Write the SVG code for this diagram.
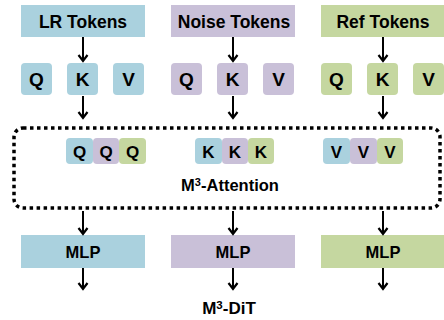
<svg xmlns="http://www.w3.org/2000/svg" width="444" height="320" viewBox="0 0 444 320">
<defs>
<style>
.b{fill:#aad1de}.p{fill:#c9c0d8}.g{fill:#c5d7a0}
.t{font-family:"Liberation Sans",Arial,sans-serif;font-weight:bold;fill:#000;text-anchor:middle}
.lbl{font-size:17.5px}
.let{font-size:19px}
.sm{font-size:17px}
.c{stroke:#000;stroke-width:2;fill:none}
</style>
<marker id="ah" markerWidth="12" markerHeight="12" refX="8" refY="6" orient="auto" markerUnits="userSpaceOnUse" viewBox="0 0 12 12">
<path d="M2,1.5 L8,6 L2,10.5" fill="none" stroke="#000" stroke-width="2.2"/>
</marker>
</defs>
<rect width="444" height="320" fill="#fff"/>

<g id="lr-tokens"><rect class="b" x="21" y="5" width="124" height="32"/><text class="t lbl" x="83" y="27.5">LR Tokens</text></g>
<g id="noise-tokens"><rect class="p" x="171" y="5" width="124" height="32"/><text class="t lbl" x="234" y="27.5">Noise Tokens</text></g>
<g id="ref-tokens"><rect class="g" x="321" y="5" width="124" height="32"/><text class="t lbl" x="383" y="27.5">Ref Tokens</text></g>

<g id="lr-q"><rect class="b" x="21" y="63" width="31" height="32" rx="4"/><text class="t let" x="36.5" y="86">Q</text></g>
<g id="lr-k"><rect class="b" x="67" y="63" width="31" height="32" rx="4"/><text class="t let" x="82.5" y="86">K</text></g>
<g id="lr-v"><rect class="b" x="113" y="63" width="31" height="32" rx="4"/><text class="t let" x="128.5" y="86">V</text></g>
<g id="noise-q"><rect class="p" x="171" y="63" width="31" height="32" rx="4"/><text class="t let" x="186.5" y="86">Q</text></g>
<g id="noise-k"><rect class="p" x="217" y="63" width="31" height="32" rx="4"/><text class="t let" x="232.5" y="86">K</text></g>
<g id="noise-v"><rect class="p" x="263" y="63" width="31" height="32" rx="4"/><text class="t let" x="278.5" y="86">V</text></g>
<g id="ref-q"><rect class="g" x="321" y="63" width="31" height="32" rx="4"/><text class="t let" x="336.5" y="86">Q</text></g>
<g id="ref-k"><rect class="g" x="367" y="63" width="31" height="32" rx="4"/><text class="t let" x="382.5" y="86">K</text></g>
<g id="ref-v"><rect class="g" x="413" y="63" width="31" height="32" rx="4"/><text class="t let" x="428.5" y="86">V</text></g>

<g id="m3-attention">
<rect x="14" y="128" width="426" height="80" rx="9" fill="none" stroke="#000" stroke-width="3.5" stroke-dasharray="3.5 3.5"/>
<g id="qqq">
<rect class="b" x="66" y="138" width="27" height="26" rx="4"/><rect class="p" x="93" y="138" width="26" height="26" rx="4"/><rect class="g" x="119" y="138" width="27" height="26" rx="4"/>
<text class="t sm" x="79.5" y="158">Q</text><text class="t sm" x="106" y="158">Q</text><text class="t sm" x="132.5" y="158">Q</text>
</g>
<g id="kkk">
<rect class="b" x="195" y="138" width="27" height="26" rx="4"/><rect class="p" x="222" y="138" width="26" height="26" rx="4"/><rect class="g" x="248" y="138" width="26" height="26" rx="4"/>
<text class="t sm" x="208.5" y="158">K</text><text class="t sm" x="235" y="158">K</text><text class="t sm" x="261" y="158">K</text>
</g>
<g id="vvv">
<rect class="b" x="323" y="138" width="27" height="26" rx="4"/><rect class="p" x="350" y="138" width="27" height="26" rx="4"/><rect class="g" x="377" y="138" width="26" height="26" rx="4"/>
<text class="t sm" x="336.5" y="158">V</text><text class="t sm" x="363.5" y="158">V</text><text class="t sm" x="390" y="158">V</text>
</g>
<text class="t" style="font-size:16.5px" x="230" y="191">M<tspan dy="-5" style="font-size:11px">3</tspan><tspan dy="5">-Attention</tspan></text>
</g>

<g id="mlp-lr"><rect class="b" x="21" y="235" width="124" height="33"/><text class="t" style="font-size:16.5px" x="83" y="257.5">MLP</text></g>
<g id="mlp-noise"><rect class="p" x="171" y="235" width="124" height="33"/><text class="t" style="font-size:16.5px" x="233" y="257.5">MLP</text></g>
<g id="mlp-ref"><rect class="g" x="321" y="235" width="124" height="33"/><text class="t" style="font-size:16.5px" x="383" y="257.5">MLP</text></g>

<text id="m3-dit" class="t" style="font-size:17px" x="229" y="314">M<tspan dy="-5" style="font-size:11.5px">3</tspan><tspan dy="5">-DiT</tspan></text>

<g id="connectors">
<line class="c" x1="83" y1="37" x2="83" y2="61" marker-end="url(#ah)"/>
<line class="c" x1="233" y1="37" x2="233" y2="61" marker-end="url(#ah)"/>
<line class="c" x1="383" y1="37" x2="383" y2="61" marker-end="url(#ah)"/>
<line class="c" x1="83" y1="96" x2="83" y2="118" marker-end="url(#ah)"/>
<line class="c" x1="233" y1="96" x2="233" y2="118" marker-end="url(#ah)"/>
<line class="c" x1="383" y1="96" x2="383" y2="118" marker-end="url(#ah)"/>
<line class="c" x1="83" y1="211" x2="83" y2="234" marker-end="url(#ah)"/>
<line class="c" x1="233" y1="211" x2="233" y2="234" marker-end="url(#ah)"/>
<line class="c" x1="383" y1="211" x2="383" y2="234" marker-end="url(#ah)"/>
<line class="c" x1="83" y1="268" x2="83" y2="289" marker-end="url(#ah)"/>
<line class="c" x1="233" y1="268" x2="233" y2="289" marker-end="url(#ah)"/>
<line class="c" x1="383" y1="268" x2="383" y2="289" marker-end="url(#ah)"/>
</g>
</svg>
